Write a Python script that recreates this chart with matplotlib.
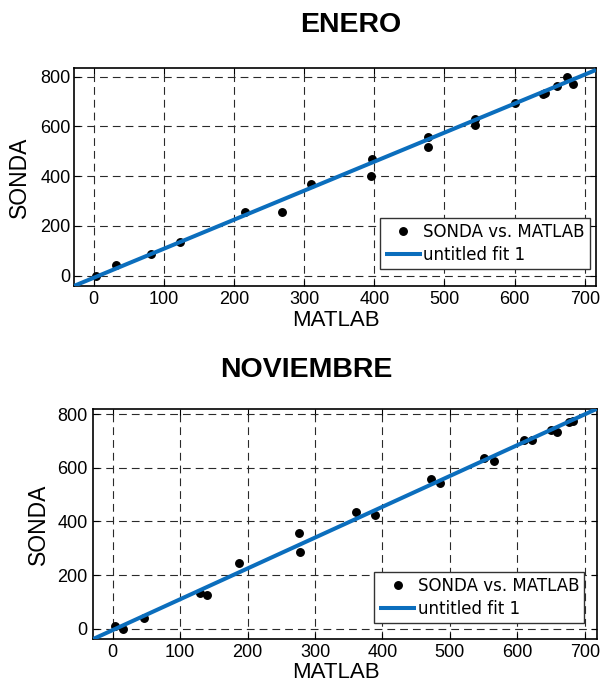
import matplotlib
matplotlib.use("Agg")
import matplotlib.pyplot as plt
import numpy as np

# ENERO data (MATLAB vs SONDA)
enero_matlab = [4, 32, 82, 123, 216, 268, 310, 395, 397, 476, 477, 543, 544, 600, 640, 644, 661, 674, 683]
enero_sonda = [0, 44, 87, 137, 256, 257, 367, 399, 467, 559, 517, 629, 607, 693, 731, 735, 763, 800, 771]
enero_fit = (1.168, -9.0)  # slope, intercept

# NOVIEMBRE data
nov_matlab = [3, 15, 47, 129, 140, 187, 277, 278, 361, 389, 472, 486, 551, 566, 610, 621, 650, 658, 676, 683]
nov_sonda = [12, 1, 42, 134, 127, 245, 357, 286, 434, 425, 560, 542, 636, 626, 702, 703, 742, 735, 769, 774]
nov_fit = (1.149, -5.0)

x_ticks = [0, 100, 200, 300, 400, 500, 600, 700]
y_ticks = [0, 200, 400, 600, 800]

W, H = 602, 684
fig = plt.figure(figsize=(W / 100, H / 100), dpi=100)
TICKFONT = "Liberation Sans"
BLUE = "#0B6EBD"


def make_axes(rect_px, xs, ys, fit, xlim, ylim, leg_anchor, xpad, ypad):
    l, t, r, b = rect_px
    ax = fig.add_axes([l / W, 1 - b / H, (r - l) / W, (b - t) / H])
    ax.set_xlim(*xlim)
    ax.set_ylim(*ylim)
    ax.set_xticks(x_ticks)
    ax.set_yticks(y_ticks)
    ax.grid(True, color="#2a2a2a", linestyle=(0, (7, 4.5)), linewidth=0.8)
    ax.set_axisbelow(True)
    ax.plot(xs, ys, "o", color="black", markersize=5.4, label="SONDA vs. MATLAB", zorder=3)
    xf = np.array(xlim)
    ax.plot(xf, fit[0] * xf + fit[1], color=BLUE, linewidth=2.9, label="untitled fit 1",
            solid_capstyle="butt", zorder=4)
    ax.tick_params(direction="in", top=True, right=True, length=4, width=0.8)
    ax.tick_params(axis="x", pad=xpad, labelsize=13)
    ax.tick_params(axis="y", pad=ypad, labelsize=13)
    for lab in ax.get_xticklabels() + ax.get_yticklabels():
        lab.set_fontfamily(TICKFONT)
    for s in ax.spines.values():
        s.set_linewidth(1.2)
        s.set_color("black")
    leg = ax.legend(loc="lower right", bbox_to_anchor=leg_anchor, fancybox=False,
                    framealpha=1, edgecolor="#333333", handlelength=2.2,
                    handletextpad=0.1, borderpad=0.3, labelspacing=0.3,
                    prop={"family": "DejaVu Sans", "size": 12}, borderaxespad=0)
    leg.get_frame().set_linewidth(1.0)
    return ax


ax1 = make_axes((74, 68, 596, 286), enero_matlab, enero_sonda, enero_fit,
                (-28, 716), (-42, 835), ((590 - 74) / 522, (286 - 269) / 218), 3.5, 2.5)
ax2 = make_axes((93, 409, 597, 639), nov_matlab, nov_sonda, nov_fit,
                (-29, 718), (-38, 819), ((584 - 93) / 504, (639 - 623) / 230), 3.5, 4)

def ftext(x, y, s, **kw):
    fig.text(x / W, 1 - y / H, s, ha="center", va="center", **kw)

ftext(351, 25, "ENERO", fontsize=20.5, fontweight="bold", family="Liberation Sans")
ftext(306, 370, "NOVIEMBRE", fontsize=20.5, fontweight="bold", family="Liberation Sans")
ftext(336, 320, "MATLAB", fontsize=16, family="Liberation Sans")
ftext(336, 672, "MATLAB", fontsize=16, family="Liberation Sans")
ftext(19, 177, "SONDA", fontsize=16.5, family="Liberation Sans", rotation=90)
ftext(38, 524, "SONDA", fontsize=16.5, family="Liberation Sans", rotation=90)

fig.savefig("out.png", dpi=100)
